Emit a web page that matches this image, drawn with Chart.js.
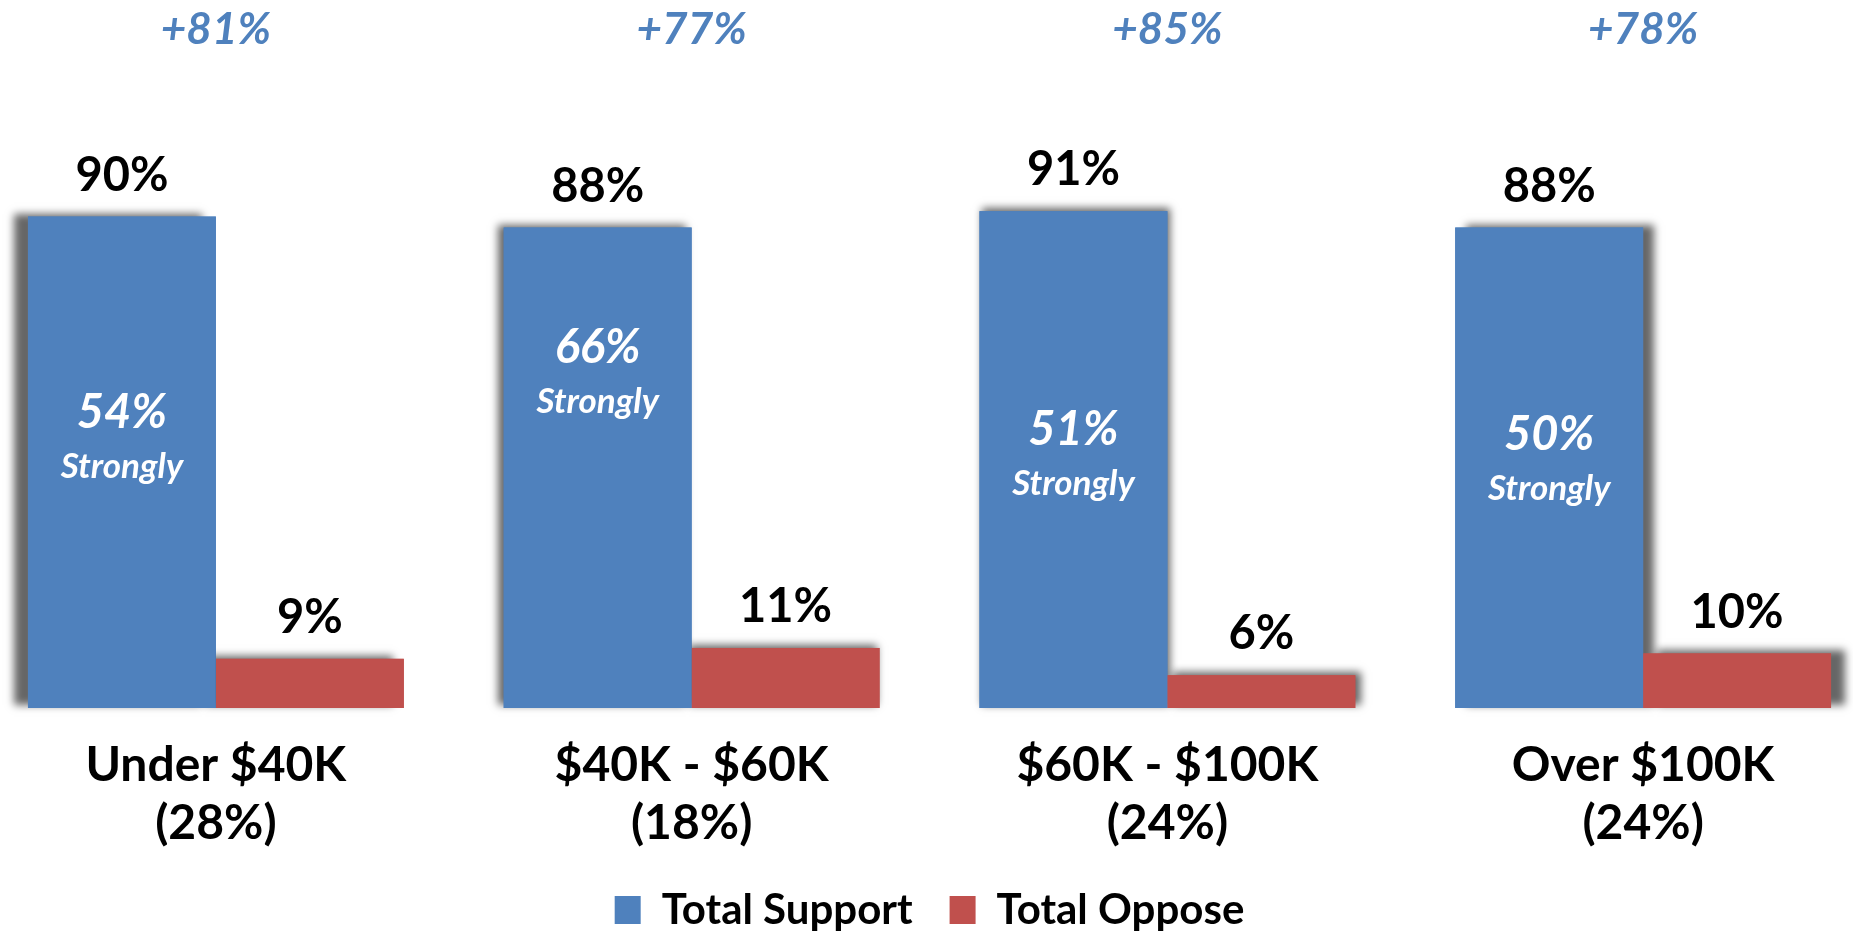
<!DOCTYPE html>
<html>
<head>
<meta charset="utf-8">
<script src="https://cdn.jsdelivr.net/npm/chart.js@4.4.1/dist/chart.umd.min.js"></script>
<style>
  html, body { margin: 0; padding: 0; background: #fff; overflow: hidden; }
  #wrap { position: absolute; left: -22px; top: 0; width: 1903px; height: 931px; }
</style>
</head>
<body>
<div id="wrap"><canvas id="incomeChart"></canvas></div>
<script>
// data
const categories = [['Under $40K', '(28%)'], ['$40K - $60K', '(18%)'], ['$60K - $100K', '(24%)'], ['Over $100K', '(24%)']];
const totalSupport = [90, 88, 91, 88];
const totalOppose = [9, 11, 6, 10];
const stronglySupport = [54, 66, 51, 50];

const blue = '#4f81bd';
const red = '#c0504d';
const FONT = 'Lato, "Open Sans", sans-serif';

// grey shadow behind each bar, pushed away from the middle of the chart
const barShadow = {
    id: 'barShadow',
    beforeDatasetsDraw(chart) {
        const ctx = chart.ctx;
        const mid = (chart.chartArea.left + chart.chartArea.right) / 2;
        chart.data.datasets.forEach((ds, di) => {
            chart.getDatasetMeta(di).data.forEach((bar) => {
                ctx.save();
                ctx.shadowColor = 'rgba(0,0,0,0.6)';
                ctx.shadowBlur = 8;
                ctx.shadowOffsetX = (bar.x - mid) / 58;
                ctx.shadowOffsetY = -3;
                ctx.fillStyle = ds.backgroundColor;
                ctx.fillRect(bar.x - bar.width / 2, bar.y, bar.width, bar.base - bar.y);
                ctx.restore();
            });
        });
    }
};

// value labels, "strongly" labels and net support
const barLabels = {
    id: 'barLabels',
    afterDatasetsDraw(chart) {
        const ctx = chart.ctx;
        const yScale = chart.scales.y;
        const xScale = chart.scales.x;
        ctx.save();
        ctx.textAlign = 'center';
        ctx.textBaseline = 'middle';

        chart.data.datasets.forEach((ds, di) => {
            chart.getDatasetMeta(di).data.forEach((bar, i) => {
                ctx.fillStyle = '#000';
                ctx.font = 'bold 47px ' + FONT;
                ctx.fillText(ds.data[i] + '%', bar.x, bar.y - 41);
            });
        });

        chart.getDatasetMeta(0).data.forEach((bar, i) => {
            const sy = yScale.getPixelForValue(stronglySupport[i]);
            ctx.fillStyle = '#fff';
            ctx.font = 'italic bold 47px ' + FONT;
            ctx.fillText(stronglySupport[i] + '%', bar.x, sy);
            ctx.font = 'italic bold 35px ' + FONT;
            ctx.fillText('Strongly', bar.x, sy + 54);
        });

        ctx.fillStyle = blue;
        ctx.font = 'italic bold 44px ' + FONT;
        categories.forEach((c, i) => {
            const net = totalSupport[i] - totalOppose[i];
            ctx.fillText('+' + net + '%', xScale.getPixelForValue(i), chart.chartArea.top - 132);
        });
        ctx.restore();
    }
};

const ctx = document.getElementById('incomeChart').getContext('2d');
new Chart(ctx, {
    type: 'bar',
    data: {
        labels: categories,
        datasets: [
            { label: 'Total Support', data: totalSupport, backgroundColor: blue },
            { label: 'Total Oppose', data: totalOppose, backgroundColor: red }
        ]
    },
    options: {
        responsive: true,
        maintainAspectRatio: false,
        animation: false,
        categoryPercentage: 0.79,
        barPercentage: 1.0,
        layout: { padding: { top: 162, left: 0, right: 0, bottom: -10 } },
        plugins: {
            legend: {
                position: 'bottom',
                labels: {
                    color: '#000',
                    font: { family: FONT, size: 42, weight: 'bold' },
                    boxWidth: 26,
                    boxHeight: 28,
                    padding: 37
                }
            },
            tooltip: { enabled: false }
        },
        scales: {
            x: {
                grid: { display: false, drawTicks: false },
                border: { display: false },
                ticks: {
                    color: '#000',
                    font: { family: FONT, size: 48, weight: 'bold', lineHeight: 1.2 },
                    padding: 29,
                    maxRotation: 0
                },
                afterFit(scale) { scale.height = 144; }
            },
            y: { display: false, min: 0, max: 100 }
        }
    },
    plugins: [barShadow, barLabels]
});
</script>
</body>
</html>
